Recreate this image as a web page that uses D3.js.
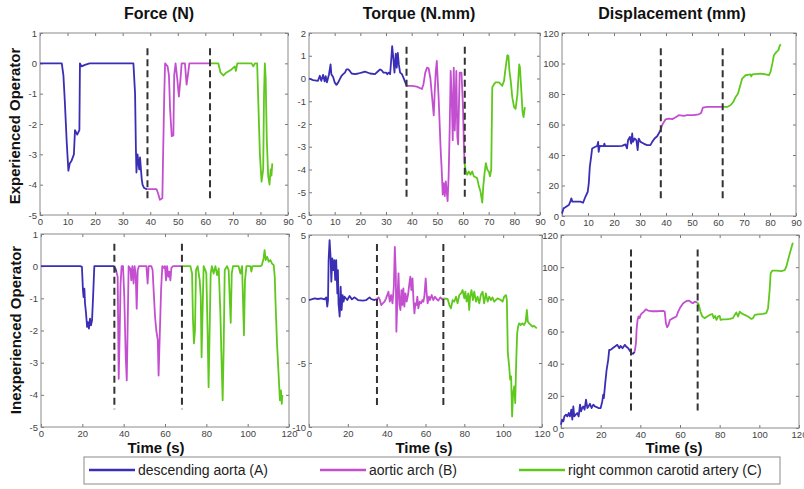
<!DOCTYPE html>
<meta charset="utf-8">
<style>
body { margin: 0; background: #fff; }
svg { display: block; }
.tick text { font-family: "Liberation Sans Narrow", "Liberation Sans", Arial, sans-serif; font-size: 9.5px; fill: #444; }
.tick line { stroke: #777; }
.frame { fill: none; stroke: #8a8a8a; stroke-width: 1; }
.title { font-family: "Liberation Sans", Arial, sans-serif; font-weight: bold; font-size: 16px; fill: #111; }
.rowlab { font-family: "Liberation Sans", Arial, sans-serif; font-weight: bold; font-size: 15px; fill: #111; }
.xlab { font-family: "Liberation Sans", Arial, sans-serif; font-weight: bold; font-size: 15px; fill: #111; }
.legend text { font-family: "Liberation Sans", Arial, sans-serif; font-size: 14px; fill: #222; }
</style>
<body>
<script src="https://cdn.jsdelivr.net/npm/d3@7"></script>
<script>

var width = 804, height = 489;

var segNames = ["descending aorta (A)", "aortic arch (B)", "right common carotid artery (C)"];
var segColors = ["#3a2fb4", "#c34fd0", "#5ec91c"];

// experienced operator, force (N)
var forceExpA = [[0,0],[7.9,0],[8.5,-0.4],[9,-1.24],[9.7,-2.6],[10.3,-3.54],[10.8,-3.3],[11.5,-3.2],[12.3,-3.0],[12.7,-2.2],[13.5,-2.35],[14.3,-2.2],[14.5,0],[15.1,-0.1],[16.3,-0.05],[18,0],[33.9,0],[34.5,-1],[34.8,-2.8],[35,-3.6],[35.4,-3.0],[36,-3.5],[36.3,-3.1],[36.9,-3.8],[37.2,-4.0],[37.7,-4.1],[38.7,-4.15],[39,-4.15]];
var forceExpB = [[39,-4.15],[42.3,-4.15],[42.9,-4.3],[43.5,-4.5],[44.4,-4.45],[44.7,-2.9],[45.1,-1.0],[45.4,0],[46.3,-0.1],[46.8,-0.4],[47.2,-1.5],[47.8,-2.4],[48.4,-2.38],[48.7,-0.4],[49.2,0],[49.8,-0.5],[50.4,-1.1],[51,-0.5],[51.4,0],[52.6,0],[53.2,-0.7],[53.8,-0.3],[54.2,0],[62,0]];
var forceExpC = [[62,0],[64.7,0],[65.5,-0.3],[66.5,-0.4],[67.7,-0.3],[69.5,-0.2],[70.7,-0.1],[71.1,-0.25],[71.6,0],[76.8,0],[77.4,-0.1],[78,0],[78.8,0],[79.3,-1.5],[79.8,-3.0],[80.4,-3.9],[81,-3.5],[81.3,-1.0],[81.6,0],[81.9,-0.5],[82.3,-2.5],[82.8,-3.7],[83.3,-4.0],[83.7,-3.5],[84,-3.7],[84.3,-3.3]];

// experienced operator, torque (N.mm)
var torqueExpA = [[0,0],[1.6,-0.07],[3.5,-0.1],[4.2,0.12],[4.8,-0.1],[5.5,0.16],[6.1,-0.13],[6.5,0.1],[7,-0.17],[7.8,0.19],[8.4,0.62],[8.7,0.19],[9.4,0.07],[10,-0.17],[10.7,-0.28],[11.4,-0.17],[12,-0.03],[12.7,0.12],[13.3,0.19],[14,0.26],[14.6,0.4],[15.3,0.4],[15.9,0.33],[16.6,0.22],[17.9,0.19],[19.2,0.22],[20.5,0.26],[21.8,0.3],[23.8,0.22],[25.7,0.19],[27,0.33],[27.7,0.4],[28.3,0.36],[29,0.26],[30,0.26],[30.5,0.19],[31,0.26],[31.6,0.19],[32,0.77],[32.4,1.42],[32.9,0.84],[33.3,0.26],[33.8,1.09],[34.2,0.48],[34.6,1.13],[35,0.62],[35.5,0.26],[36.2,0.19],[36.8,0.04],[37.5,-0.17],[38.1,-0.32]];
var torqueExpB = [[38.1,-0.32],[40.1,-0.32],[42,-0.36],[44,-0.46],[44.6,-0.25],[45.3,0.26],[46,0.48],[46.6,0.45],[47.3,0],[47.9,-0.75],[48.6,-1.62],[49,-0.54],[49.4,0.33],[49.8,0.77],[50.1,0.04],[50.5,-0.83],[50.9,-1.99],[51.3,-3.14],[51.7,-4.01],[52.1,-5.1],[52.5,-4.6],[52.9,-5.17],[53.3,-4.52],[53.7,-5.03],[54,-5.39],[54.4,-4.3],[54.8,-2.28],[55.2,0.33],[55.6,-0.83],[56,-2.71],[56.4,0.48],[56.8,-2.28],[57.1,-1.2],[57.4,0.33],[57.8,-2.57],[58.1,-2.9],[58.7,0.26],[59.4,0.26],[60,-1.26],[60.3,-2.71],[60.6,-3.72]];
var torqueExpC = [[60.6,-3.72],[61,-4.01],[61.6,-4.23],[62.3,-4.09],[62.9,-4.23],[63.6,-4.09],[64.2,-4.3],[65.5,-4.38],[66.2,-4.74],[66.8,-4.96],[67.5,-5.46],[67.9,-4.74],[68.4,-4.16],[68.9,-3.72],[69.5,-4.01],[70.1,-4.1],[70.5,-4.3],[71,-4.01],[71.4,-0.39],[72.1,-0.25],[72.7,-0.17],[74,-0.17],[74.7,-0.25],[75.3,-0.32],[76,-0.1],[76.6,0.48],[77.3,1.03],[77.7,0.99],[78.1,0.33],[78.6,-0.1],[79.2,-0.83],[79.9,-1.26],[80.5,-1.33],[81.2,-0.7],[81.9,0.62],[82.2,0.48],[82.8,-0.68],[83.2,-1.48],[83.6,-1.7],[84.1,-1.26]];

// experienced operator, displacement (mm)
var dispExpA = [[0,1.7],[0.6,5],[1.3,5.7],[2.6,7.2],[3.2,9.4],[3.6,11.6],[4,9.4],[5.1,9.4],[7.1,9.4],[8.1,8.7],[9,12.6],[9.9,15.9],[10.3,21.4],[10.7,32.3],[11.2,38.8],[11.6,44.3],[12.8,45.4],[13.5,45.8],[13.9,48.6],[14.1,42.1],[14.5,46],[16,45.8],[16.3,47.5],[16.6,45.8],[21.2,45.8],[23.1,46],[24.4,47],[25,44.3],[25.4,49.7],[26.1,51.9],[26.6,47.5],[27,54.1],[27.3,48.6],[27.9,50.8],[28.6,49.7],[29.1,43.2],[29.5,50.8],[30.2,48.6],[31.4,47.5],[32.7,46.5],[34,46.5],[34.7,48.6],[35.6,50.8],[36.6,52.3],[37.2,54.1],[37.9,56.3]];
var dispExpB = [[37.9,56.3],[38.5,59.5],[39.2,61.7],[39.8,63.3],[41.1,63.9],[42.4,63.5],[43.6,64.6],[44.9,66.1],[46.9,65.7],[48.1,66.1],[50.7,66.1],[52.6,66.7],[53.5,67.6],[54.2,71.1],[55.8,71.5],[58.4,71.5],[61.6,71.5]];
var dispExpC = [[61.6,71.5],[63.5,71.5],[64.8,72.6],[65.9,74.8],[66.8,78.1],[67.7,80.3],[68.4,84.6],[69.3,90.1],[70.6,92.3],[72.5,92.9],[72.8,91.5],[73.2,92.9],[76.4,93.4],[78.3,92.9],[79.6,92.3],[80.2,94.5],[80.9,99.9],[81.5,105.4],[82.5,107.6],[83.2,108.6],[83.8,111.9],[84.2,112.6]];

// inexperienced operator, force (N)
var forceInexpA = [[0,0],[19,0],[19.8,-0.02],[20.3,-0.75],[20.6,-0.96],[21,-0.7],[21.3,-1.16],[21.8,-1.47],[22.3,-1.89],[22.7,-1.74],[23.2,-1.94],[23.7,-1.63],[24.2,-1.84],[24.7,-1.68],[25.2,-0.96],[25.8,0],[35.2,0],[36,-0.07],[36.5,-0.18]];
var forceInexpB = [[36.5,-0.18],[37.1,-0.33],[37.6,-3.5],[38.1,-2],[38.5,-0.54],[39,0],[39.7,0],[40.3,-0.96],[41,-2.83],[41.5,-3.55],[41.9,-2],[42.4,0],[43.2,-0.07],[43.7,-0.44],[44.2,0],[44.8,-0.54],[45.3,0],[45.8,-0.23],[46.3,-1.32],[46.8,-0.12],[47.4,0],[51,0],[51.6,-0.54],[52.1,0],[53.4,0],[54,-0.12],[54.5,-0.75],[55.2,-1.58],[55.8,-2],[56.5,-2.3],[56.9,-3.4],[57.4,-2.3],[58.1,-0.75],[58.7,0],[59.4,-0.05],[60,0],[60.5,-0.44],[61,0],[61.6,-0.33],[62.1,-0.17],[62.6,-0.44],[63.1,-0.05],[63.9,0],[68.2,0]];
var forceInexpC = [[68.2,0],[72.3,0],[73.1,-0.23],[73.5,-1.58],[74,-2.4],[74.5,-2],[75,-0.12],[75.8,0],[76.8,-0.44],[77.3,-0.96],[77.7,-2.83],[78.2,-1.37],[78.7,0],[79.5,-0.12],[80,-0.23],[80.6,-2],[81.1,-3.76],[81.6,-2],[82.1,-0.23],[82.7,0],[83.5,-0.23],[84.4,0],[85.2,-0.28],[86,-0.07],[86.8,-1.47],[87.4,-3.03],[87.9,-4.17],[88.4,-2.5],[88.9,-0.12],[90,0],[90.8,-0.12],[91.3,-0.96],[91.8,-1.76],[92.3,-0.23],[92.9,0],[95.6,0],[96.5,-0.23],[97.3,0],[97.7,-0.96],[98.2,-2.15],[98.7,-0.44],[99.4,0],[101.3,0],[101.8,-0.17],[102.3,0],[106.1,0],[106.8,0.02],[107.7,0.24],[108.2,0.5],[108.7,0.19],[109.4,0.29],[110.2,0.14],[111,0.19],[111.8,0.08],[112.6,0.03],[113.1,-0.33],[113.5,-1.16],[114.2,-2.4],[114.7,-3.03],[115.2,-3.66],[115.6,-4.17],[116.1,-3.86],[116.5,-4.28],[116.8,-4.0]];

// inexperienced operator, torque (N.mm)
var torqueInexpA = [[0,-0.08],[1.2,-0.03],[2.9,0.05],[4.6,0],[6.3,0.05],[8,-0.03],[8.9,0.13],[9.4,-0.6],[9.8,-0.08],[10.1,3.04],[10.6,4.6],[11.1,3.3],[11.5,1.35],[12,3.17],[12.5,2.26],[13,3.04],[13.5,1.48],[14,3.04],[14.6,0.44],[14.9,2.26],[15.2,-0.34],[15.8,-1.38],[16.3,0.96],[16.8,-0.86],[17.3,0.31],[17.8,-0.21],[18.3,0.18],[19.7,-0.08],[20.9,0.23],[22.1,-0.03],[23.5,0.13],[25.2,-0.08],[27.7,-0.13],[29.5,-0.08],[31.2,0.13],[32,0],[33.7,-0.08],[34.9,0]];
var torqueInexpB = [[34.9,0],[35.8,0.13],[36.5,-0.08],[37.2,-0.47],[38,-0.34],[38.9,-0.21],[39.7,0.05],[40.9,0.57],[41.6,-0.21],[42.3,0.31],[43,-0.34],[43.7,0.96],[44.2,4.08],[44.7,2],[45,-2.55],[45.5,-0.08],[46.1,2],[46.6,-0.47],[47.1,-0.86],[47.6,0.7],[48.1,-0.47],[48.6,0.83],[49.1,-0.6],[49.7,0.44],[50.3,-0.21],[51,0.31],[51.7,1.22],[52.2,1.74],[52.7,0.7],[53.3,1.61],[53.8,-0.08],[54.3,-1.12],[54.8,-0.34],[55.3,-0.47],[55.8,0.18],[56.3,-0.73],[57,-0.21],[57.7,-0.34],[58.4,-0.08],[58.9,-0.21],[59.4,0.18],[60.1,1.61],[60.6,0.44],[61.1,-0.34],[61.8,0.18],[62.3,-0.08],[63.2,0.31],[64,-0.08],[64.9,0.18],[65.7,0],[66.6,-0.13],[67.6,0.13],[68.5,0],[69.3,0.05]];
var torqueInexpC = [[69.3,0.05],[71.4,0],[72.3,-0.47],[73.1,-0.73],[74,-0.08],[74.8,-0.21],[75.7,0.18],[76.5,-0.34],[77.4,0.31],[78.3,0.44],[79.1,0.7],[80,0.05],[80.5,0.57],[81.2,-0.21],[82,0.44],[82.5,-0.86],[83,0.18],[83.7,0.7],[84.4,-0.08],[85.1,0.57],[86,-0.21],[86.8,0.18],[87.7,-0.34],[88.5,0.31],[89.4,0.57],[90.2,-0.34],[91.1,0.44],[92,-0.21],[92.8,0.18],[93.7,-0.08],[94.5,0.13],[95.4,-0.21],[97.1,0.05],[98.8,-0.08],[99.7,-0.21],[100.5,0.18],[101.4,0.31],[101.9,-0.08],[102.4,-4.23],[103.1,-5.27],[103.6,-6.3],[104.1,-6.05],[104.6,-9.17],[105.1,-7.35],[105.7,-6.83],[106.2,-8.13],[106.7,-5.0],[107.2,-2.68],[107.7,-2.16],[108.2,-1.9],[109.1,-2.03],[109.9,-1.9],[110.8,-2.03],[111.6,-1.77],[112.2,-0.86],[112.7,-1.77],[113.4,-1.9],[114.2,-2.03],[115.1,-2.16],[115.9,-2.1],[117.3,-2.3]];

// inexperienced operator, displacement (mm)
var dispInexpA = [[0,2],[0.5,5.2],[1.2,4.1],[1.7,7.2],[2.5,8.3],[3.2,7.2],[3.9,9.3],[4.5,7.2],[5.2,11.4],[5.7,5.2],[6.2,13.4],[6.7,7.2],[7.4,8.3],[8.2,9.3],[8.9,7.2],[9.6,14.5],[10.1,10.3],[10.7,12.4],[11.2,13.4],[11.9,11.4],[12.6,17.6],[13.3,12.4],[13.9,13.4],[14.6,15.1],[15.4,12.4],[16.3,14.5],[17.1,13.4],[18,13],[18.8,12.4],[20,12.4],[20.8,16.5],[21.3,20.7],[21.6,18.6],[22.3,27.9],[23,36.2],[23.8,42.4],[24.3,48.6],[25,48.6],[26,49.6],[27.2,50.7],[28.4,51.7],[29.4,49.6],[30,51.1],[31,49.6],[32.2,51.7],[33.1,50.3],[33.9,49.6],[34.7,48],[35.6,46.5],[36.4,46.1],[37.2,47.6]];
var dispInexpB = [[37.2,47.6],[37.8,52.7],[38.1,61],[38.6,67.2],[39.1,69.3],[39.6,68.3],[40.1,70.3],[40.9,71.4],[41.8,72.4],[42.8,73.8],[43.9,73],[45.6,72.6],[48.2,72.6],[51.5,72.8],[52.3,72.4],[52.9,65.1],[53.5,62.7],[54.2,64.1],[54.9,67.2],[56.5,68.3],[58.2,69.3],[59.1,72.4],[60.2,75.1],[61.6,77.6],[63.3,79],[64.6,79.2],[65.8,78],[66.6,77.6],[67.4,78.6],[68.8,78]];
var dispInexpC = [[68.8,78],[69.5,76.5],[70.3,72.4],[71.3,69.3],[72.5,68.3],[73.7,69.3],[75,70.3],[76.3,70.9],[77,68.3],[77.7,69.7],[78.4,67.2],[79.2,69.3],[80,69.7],[80.5,67.2],[81.7,67.6],[83.4,67.6],[85.1,67.8],[86.7,68.3],[87.6,70.3],[88.4,71.8],[89.3,69.3],[90.1,72.4],[90.9,71.4],[92.6,70.3],[94.3,69.3],[96,67.8],[96.8,68.3],[97.7,70.3],[99.3,70.7],[101.8,70.9],[103.5,71.4],[104.4,74.5],[105.2,85.8],[105.7,96.2],[106.5,97.8],[108.6,97.8],[111.1,97.6],[112.8,98.2],[113.6,100.3],[114.9,106.5],[116.1,111.7],[116.9,115.2]];

// segment boundaries (s) and the vertical span of the dashed markers
var boundsForceExp = [39, 61.7],    spanForceExp = [0.5, -4.5];
var boundsTorqueExp = [38, 60.7],   spanTorqueExp = [1.4, -5.35];
var boundsDispExp = [38, 61.8],     spanDispExp = [110, 9.5];
var boundsForceInexp = [35.5, 68.2], spanForceInexp = [0.7, -4.45];
var boundsTorqueInexp = [35, 69.2], spanTorqueInexp = [4.3, -8.6];
var boundsDispInexp = [35.3, 68.9], spanDispInexp = [111, 9];

var xTicksExp = d3.range(0, 91, 10);
var xTicksInexp = d3.range(0, 121, 20);
var yTicksForce = d3.range(-5, 2, 1);
var yTicksTorqueExp = d3.range(-6, 3, 1);
var yTicksTorqueInexp = [-10, -5, 0, 5];
var yTicksDisp = d3.range(0, 121, 20);

var titles = ["Force (N)", "Torque (N.mm)", "Displacement (mm)"];
var rowLabels = ["Experienced Operator", "Inexperienced Operator"];
var xLabel = "Time (s)";

var panels = [
  {box: [40, 288, 33, 215],  xd: [0, 90],  yd: [-5, 1],   xt: xTicksExp,   yt: yTicksForce,       series: [forceExpA, forceExpB, forceExpC],       bounds: boundsForceExp,   span: spanForceExp,   labelX: 159},
  {box: [309, 540, 33, 215], xd: [0, 90],  yd: [-6, 2],   xt: xTicksExp,   yt: yTicksTorqueExp,   series: [torqueExpA, torqueExpB, torqueExpC],    bounds: boundsTorqueExp,  span: spanTorqueExp,  labelX: 419},
  {box: [562, 796, 33, 216], xd: [0, 90],  yd: [0, 120],  xt: xTicksExp,   yt: yTicksDisp,        series: [dispExpA, dispExpB, dispExpC],          bounds: boundsDispExp,    span: spanDispExp,    labelX: 672},
  {box: [41, 289, 234, 427], xd: [0, 120], yd: [-5, 1],   xt: xTicksInexp, yt: yTicksForce,       series: [forceInexpA, forceInexpB, forceInexpC], bounds: boundsForceInexp, span: spanForceInexp, labelX: 156},
  {box: [309, 542, 235, 427], xd: [0, 120], yd: [-10, 5], xt: xTicksInexp, yt: yTicksTorqueInexp, series: [torqueInexpA, torqueInexpB, torqueInexpC], bounds: boundsTorqueInexp, span: spanTorqueInexp, labelX: 424},
  {box: [561, 799, 235, 428], xd: [0, 120], yd: [0, 120], xt: xTicksInexp, yt: yTicksDisp,        series: [dispInexpA, dispInexpB, dispInexpC],    bounds: boundsDispInexp,  span: spanDispInexp,  labelX: 674}
];

var svg = d3.select("body").append("svg")
    .attr("width", width)
    .attr("height", height);

var fmt = function(d) { return String(d); };

panels.forEach(function(p, i) {
  var x = d3.scaleLinear().domain(p.xd).range([p.box[0], p.box[1]]);
  var y = d3.scaleLinear().domain(p.yd).range([p.box[3], p.box[2]]);
  var g = svg.append("g");

  g.append("g").attr("transform", "translate(0," + p.box[3] + ")")
      .call(d3.axisBottom(x).tickValues(p.xt).tickFormat(fmt).tickSize(-3).tickPadding(3));
  g.append("g").attr("transform", "translate(0," + p.box[2] + ")")
      .call(d3.axisTop(x).tickValues(p.xt).tickFormat("").tickSize(-3));
  g.append("g").attr("transform", "translate(" + p.box[0] + ",0)")
      .call(d3.axisLeft(y).tickValues(p.yt).tickFormat(fmt).tickSize(-3).tickPadding(3));
  g.append("g").attr("transform", "translate(" + p.box[1] + ",0)")
      .call(d3.axisRight(y).tickValues(p.yt).tickFormat("").tickSize(-3));
  g.selectAll(".domain").remove();

  g.append("rect").attr("class", "frame")
      .attr("x", p.box[0]).attr("y", p.box[2])
      .attr("width", p.box[1] - p.box[0]).attr("height", p.box[3] - p.box[2]);

  var line = d3.line().x(function(d) { return x(d[0]); }).y(function(d) { return y(d[1]); });
  p.series.forEach(function(s, k) {
    g.append("path").datum(s)
        .attr("d", line)
        .attr("fill", "none")
        .attr("stroke", segColors[k])
        .attr("stroke-width", 1.8)
        .attr("stroke-linejoin", "round");
  });

  g.selectAll(".bound").data(p.bounds).enter().append("line")
      .attr("x1", function(d) { return x(d); }).attr("x2", function(d) { return x(d); })
      .attr("y1", y(p.span[0])).attr("y2", y(p.span[1]))
      .attr("stroke", "#333").attr("stroke-width", 2).attr("stroke-dasharray", "7,4");

  if (i < 3) {
    svg.append("text").attr("class", "title")
        .attr("x", p.labelX).attr("y", 19)
        .attr("text-anchor", "middle").text(titles[i]);
  } else {
    svg.append("text").attr("class", "xlab")
        .attr("x", p.labelX).attr("y", 453)
        .attr("text-anchor", "middle").text(xLabel);
  }
});

// row labels
[[126, 20], [330, 21]].forEach(function(c, i) {
  svg.append("text").attr("class", "rowlab")
      .attr("transform", "translate(" + c[1] + "," + c[0] + ") rotate(-90)")
      .attr("text-anchor", "middle").text(rowLabels[i]);
});

// legend
var legend = svg.append("g").attr("class", "legend");
legend.append("rect")
    .attr("x", 84).attr("y", 457).attr("width", 696).attr("height", 27)
    .attr("fill", "#fff").attr("stroke", "#8a8a8a");
var itemX = [89, 320, 519];
segNames.forEach(function(n, k) {
  legend.append("line")
      .attr("x1", itemX[k]).attr("x2", itemX[k] + 46)
      .attr("y1", 470).attr("y2", 470)
      .attr("stroke", segColors[k]).attr("stroke-width", 2.5);
  legend.append("text")
      .attr("x", itemX[k] + 49).attr("y", 475).text(n);
});

</script>
